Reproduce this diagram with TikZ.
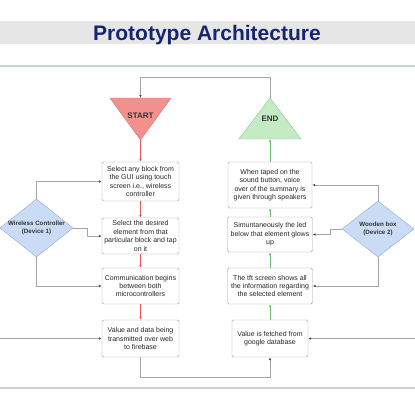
\documentclass[tikz,border=0pt]{standalone}
\usepackage{fontspec}
\setmainfont{Liberation Sans}
\usetikzlibrary{arrows.meta,shapes.geometric}
\definecolor{Navy}{HTML}{15266E}
\definecolor{Band}{HTML}{E6E6E6}
\definecolor{PageLine}{HTML}{CBD0D6}
\definecolor{Wire}{HTML}{A6A6A6}
\definecolor{Tip}{HTML}{4D4D4D}
\definecolor{BoxLine}{HTML}{A0A0A0}
\definecolor{StartFill}{HTML}{F4918F}
\definecolor{StartLine}{HTML}{D86B6B}
\definecolor{EndFill}{HTML}{C5EBC5}
\definecolor{EndLine}{HTML}{92C292}
\definecolor{DevFill}{HTML}{CADCF5}
\definecolor{DevLine}{HTML}{8FAAD4}
\definecolor{Down}{HTML}{E8524F}
\definecolor{Up}{HTML}{6DBE6D}

\begin{document}
\begin{tikzpicture}[x=1pt,y=-1pt,
  block/.style={draw=BoxLine,fill=white,rounded corners=1.5pt,align=center,inner sep=1pt,
    text=black!85,font=\fontsize{7}{8.4}\selectfont},
  device/.style={diamond,draw=DevLine,fill=DevFill,inner sep=0pt},
  devtext/.style={align=center,text=black!80,font=\bfseries\fontsize{6.2}{8}\selectfont},
  term/.style={text=black!80,font=\bfseries\fontsize{8}{9}\selectfont},
  wire/.style={draw=Wire,line width=0.6pt,-{Latex[length=3pt,width=2.6pt,color=Tip]}},
  down/.style={draw=Down,line width=0.6pt,-{Latex[length=3pt,width=2.6pt]}},
  up/.style={draw=Up,line width=0.6pt,-{Latex[length=3pt,width=2.6pt]}}]
  \useasboundingbox (0,0) rectangle (415,415);
  \fill[Band] (0,21) rectangle (415,44);
  \node[anchor=base,text=Navy,font=\bfseries\fontsize{21}{24}\selectfont] (title) at (207,40) {Prototype Architecture};
  \draw[PageLine,line width=1.5pt] (0,66) -- (415,66);
  \draw[PageLine,line width=1.5pt] (0,388) -- (415,388);

  \draw[fill=StartFill,draw=StartLine] (110,98) -- (171,98) -- (140.5,140) -- cycle;
  \coordinate (start-top) at (140.5,98);
  \coordinate (start-tip) at (140.5,140);
  \node[term] (start) at (140.5,116) {START};
  \draw[fill=EndFill,draw=EndLine] (239,139) -- (301,139) -- (270,98) -- cycle;
  \coordinate (end-tip) at (270,98);
  \coordinate (end-base) at (270,139);
  \node[term] (end) at (270,119) {END};

  \node[block,minimum width=77,minimum height=39] (sel) at (140.5,181.5) {Select any block from\\the GUI using touch\\screen i.e., wireless\\controller};
  \node[block,minimum width=77,minimum height=36] (tap) at (140.5,236) {Select the desired\\element from that\\particular block and tap\\on it};
  \node[block,minimum width=77,minimum height=36] (link) at (140.5,286) {Communication begins\\between both\\microcontrollers};
  \node[block,minimum width=77,minimum height=37] (send) at (140.5,338.5) {Value and data being\\transmitted over web\\to firebase};

  \node[block,minimum width=84,minimum height=46] (voice) at (270,185) {When taped on the\\sound button, voice\\over of the summary is\\given through speakers};
  \node[block,minimum width=85,minimum height=35] (led) at (270,234.5) {Simuntaneously the led\\below that element glows\\up};
  \node[block,minimum width=85,minimum height=36] (tft) at (270,286) {The tft screen shows all\\the information regarding\\the selected element};
  \node[block,minimum width=76,minimum height=37] (fetch) at (270,338.5) {Value is fetched from\\google database};

  \node[device,minimum width=73,minimum height=58] (wc) at (36.5,228) {};
  \node[devtext] (wc-text) at (wc) {Wireless Controller\\(Device 1)};
  \node[device,minimum width=72,minimum height=56] (wb) at (378,229) {};
  \node[devtext] (wb-text) at (wb) {Wooden box\\(Device 2)};

  \draw[wire] (end-tip) -- ++(0,-21) -| (start-top);
  \draw[down] (start-tip) -- (sel);
  \draw[down] (sel) -- (tap);
  \draw[down] (tap) -- (link);
  \draw[down] (link) -- (send);
  \draw[wire] (send.south) -- ++(0,20) -| (fetch.south);
  \draw[up] (fetch) -- (tft);
  \draw[up] (tft) -- (led);
  \draw[up] (led) -- (voice);
  \draw[up] (voice) -- (end-base);

  \draw[wire] (wc.north) |- (sel.west);
  \draw[wire] (wc.east) -- ++(14,0) |- (tap.west);
  \draw[wire] (wc.south) |- (link.west);
  \coordinate (left-in) at (0,338.5);
  \draw[wire] (left-in) -- (send.west);
  \draw[wire] (wb.north) |- (voice.east);
  \draw[wire] (wb.west) -- ++(-12,0) |- (led.east);
  \draw[wire] (wb.south) |- (tft.east);
  \coordinate (right-in) at (415,338.5);
  \draw[wire] (right-in) -- (fetch.east);
\end{tikzpicture}
\end{document}
